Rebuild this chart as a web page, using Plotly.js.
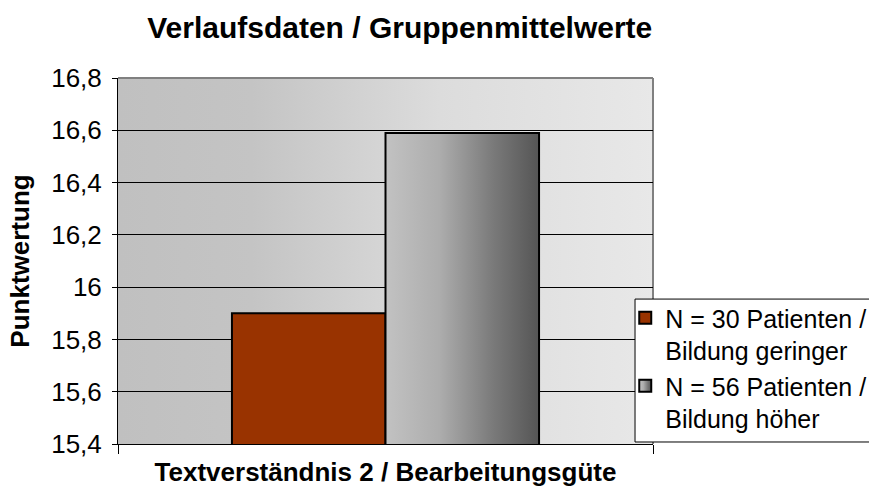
<!DOCTYPE html>
<html>
<head>
<meta charset="utf-8">
<script src="https://cdn.plot.ly/plotly-3.0.1.min.js"></script>
<style>html,body{margin:0;padding:0;background:#fff;}#chart{width:869px;height:500px;}</style>
</head>
<body>
<div id="chart"></div>
<script>
const category = ["Textverständnis 2 / Bearbeitungsgüte"];
const seriesNames = ["N = 30 Patienten /<br>Bildung geringer", "N = 56 Patienten /<br>Bildung höher"];
const valuesLow = [15.9];
const valuesHigh = [16.59];
const yTicks = [15.4, 15.6, 15.8, 16.0, 16.2, 16.4, 16.6, 16.8];

const FONT = '"Liberation Sans", Arial, sans-serif';

const traces = [
  {type: 'bar', x: category, y: valuesLow, name: seriesNames[0],
   marker: {color: '#993300', line: {color: '#000', width: 2}}},
  {type: 'bar', x: category, y: valuesHigh, name: seriesNames[1],
   marker: {color: '#999999', line: {color: '#000', width: 2}}}
];

const layout = {
  width: 869, height: 500,
  margin: {l: 118, r: 216, t: 78, b: 56, autoexpand: false},
  paper_bgcolor: '#ffffff',
  plot_bgcolor: '#d4d4d4',
  separators: ',.',
  font: {family: FONT, color: '#000', size: 25},
  title: {text: '<b>Verlaufsdaten / Gruppenmittelwerte</b>', x: 0.46, xanchor: 'center', y: 0.946, yanchor: 'middle',
          font: {family: FONT, size: 30, color: '#000'}},
  barmode: 'group',
  bargap: 0.426,
  bargroupgap: 0,
  showlegend: true,
  legend: {xref: 'container', yref: 'container', x: 0.7195, y: 0.41, xanchor: 'left', yanchor: 'top',
           bgcolor: 'rgba(0,0,0,0)', borderwidth: 0, valign: 'top', itemwidth: 30,
           font: {family: FONT, size: 25, color: '#000'}, tracegroupgap: 4},
  xaxis: {
    showticklabels: false, ticks: 'outside', ticklen: 9, tickcolor: '#000', tickson: 'boundaries',
    showline: true, linecolor: '#000', linewidth: 1, mirror: false,
    showgrid: false, zeroline: false,
    title: {text: '<b>Textverständnis 2 / Bearbeitungsgüte</b>', standoff: 18, font: {family: FONT, size: 26, color: '#000'}}
  },
  yaxis: {
    range: [15.4, 16.8], tickvals: yTicks, ticks: 'outside', ticklen: 5, tickcolor: '#000',
    ticklabelstandoff: 5,
    showline: true, linecolor: '#000', linewidth: 1,
    showgrid: true, gridcolor: '#000', gridwidth: 1, zeroline: false,
    tickfont: {family: FONT, size: 26, color: '#000'},
    title: {text: '<b>Punktwertung</b>', standoff: 14, font: {family: FONT, size: 26, color: '#000'}}
  },
  shapes: [
    {type: 'line', xref: 'paper', yref: 'paper', x0: 0, x1: 1, y0: 1, y1: 1, line: {color: '#808080', width: 2}, layer: 'above'},
    {type: 'line', xref: 'paper', yref: 'paper', x0: 1, x1: 1, y0: 0, y1: 1, line: {color: '#808080', width: 2}, layer: 'below'},
    {type: 'rect', xref: 'paper', yref: 'paper', x0: 0.9664, x1: 1.41, y0: 0.0055, y1: 0.396,
     fillcolor: '#ffffff', line: {color: '#000', width: 1}, layer: 'above'}
  ]
};

function applyGradients(gd) {
  const svg = gd.querySelector('svg.main-svg');
  if (!svg) return;
  const ns = 'http://www.w3.org/2000/svg';
  let defs = svg.querySelector('defs');
  if (!defs) { defs = document.createElementNS(ns, 'defs'); svg.insertBefore(defs, svg.firstChild); }
  function mk(id, stops) {
    if (svg.querySelector('#' + id)) return;
    const g = document.createElementNS(ns, 'linearGradient');
    g.setAttribute('id', id);
    g.setAttribute('x1', '0'); g.setAttribute('y1', '0'); g.setAttribute('x2', '1'); g.setAttribute('y2', '0');
    stops.forEach(s => {
      const st = document.createElementNS(ns, 'stop');
      st.setAttribute('offset', s[0]); st.setAttribute('stop-color', s[1]);
      g.appendChild(st);
    });
    defs.appendChild(g);
  }
  mk('bgGrad', [['0', '#c0c0c0'], ['0.25', '#c4c4c4'], ['0.6', '#dcdcdc'], ['1', '#e8e8e8']]);
  mk('barGrad', [['0', '#c2c2c2'], ['0.35', '#adadad'], ['0.7', '#7a7a7a'], ['1', '#555555']]);
  const bg = svg.querySelector('.bglayer rect.bg');
  if (bg) bg.style.fill = 'url(#bgGrad)';
  const traceGroups = svg.querySelectorAll('.barlayer .trace');
  if (traceGroups[1]) traceGroups[1].querySelectorAll('path').forEach(p => p.style.fill = 'url(#barGrad)');
  const legendItems = document.querySelectorAll('.legend .traces');
  legendItems.forEach(it => it.querySelectorAll('.legendpoints path').forEach(p => { p.style.strokeWidth = '2px'; }));
  if (legendItems[1]) legendItems[1].querySelectorAll('.legendpoints path').forEach(p => p.style.fill = 'url(#barGrad)');
}

const gd = document.getElementById('chart');
Plotly.newPlot(gd, traces, layout, {staticPlot: true, displayModeBar: false}).then(() => {
  applyGradients(gd);
  gd.on('plotly_afterplot', () => applyGradients(gd));
});
</script>
</body>
</html>
